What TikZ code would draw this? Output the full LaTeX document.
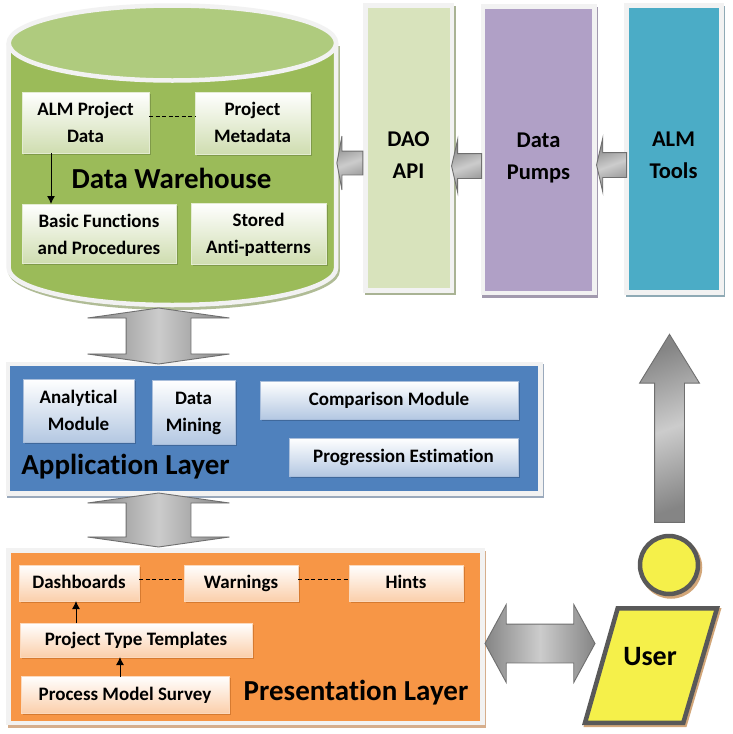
\documentclass[tikz,border=0pt]{standalone}
\usepackage{fontspec}
\setmainfont[Ligatures=NoCommon]{Carlito}
\usetikzlibrary{shadows,shapes.arrows,shapes.geometric,arrows.meta}
\definecolor{edgegray}{HTML}{F2F2F2}
\definecolor{arrowdark}{HTML}{858585}
\definecolor{arrowlight}{HTML}{CCCCCC}
\definecolor{arrowline}{HTML}{6F6F6F}
\definecolor{LB}{HTML}{CFDDB0}
\definecolor{GE}{HTML}{E4ECD2}
\definecolor{GS}{HTML}{7F9A49}
\definecolor{BB}{HTML}{B4C8E2}
\definecolor{BE}{HTML}{A9BEDB}
\definecolor{BS}{HTML}{3F689B}
\definecolor{OB}{HTML}{FBCFAB}
\definecolor{OE}{HTML}{FBD9BD}
\definecolor{OS}{HTML}{D67A30}
\definecolor{cylshadow}{HTML}{B0BC96}
\definecolor{cylbody}{HTML}{9BBB59}
\definecolor{cyltop}{HTML}{AFCB7E}
\definecolor{daofill}{HTML}{D8E3BC}
\definecolor{daoshadow}{HTML}{A9B394}
\definecolor{pumpfill}{HTML}{B0A0C6}
\definecolor{pumpshadow}{HTML}{A29AAE}
\definecolor{toolfill}{HTML}{4BACC6}
\definecolor{toolshadow}{HTML}{8FAAB5}
\definecolor{appfill}{HTML}{4F81BD}
\definecolor{appshadow}{HTML}{9AA9BC}
\definecolor{presfill}{HTML}{F79646}
\definecolor{presshadow}{HTML}{D6AE8C}
\definecolor{userfill}{HTML}{F5F04A}
\definecolor{userline}{HTML}{595959}
\definecolor{usershadow}{HTML}{D2A679}
\tikzset{
  x=1pt,y=-1pt,
  every node/.style={align=center,inner sep=0pt,outer sep=0pt,text=black},
  lbl/.style={font=\fontsize{22.5}{32}\selectfont\bfseries},
  title/.style={font=\fontsize{29}{32}\selectfont\bfseries,text height=22pt,text depth=5pt},
  boxtext/.style={font=\fontsize{19}{27}\selectfont\bfseries},
  oneline/.style={text height=14pt,text depth=3pt},
  panel/.style 2 args={rectangle,draw=edgegray,line width=4.5pt,fill=#1,
    general shadow={fill=#2,draw=#2,line width=4.5pt,shadow xshift=1.5pt,shadow yshift=-2.5pt}},
  greenbox/.style={rectangle,boxtext,shade,top color=white,bottom color=LB,draw=GE,line width=.8pt,
    general shadow={fill=GS,shadow xshift=1.5pt,shadow yshift=-2pt}},
  bluebox/.style={rectangle,boxtext,shade,top color=white,bottom color=BB,draw=BE,line width=.8pt,
    general shadow={fill=BS,shadow xshift=1.5pt,shadow yshift=-2pt}},
  orangebox/.style={rectangle,boxtext,oneline,shade,top color=white,bottom color=OB,draw=OE,line width=.8pt,
    general shadow={fill=OS,shadow xshift=1.5pt,shadow yshift=-2pt}},
  blockarrow/.style={draw=arrowline,line width=.9pt,shade,left color=arrowdark,right color=arrowdark,middle color=arrowlight},
  sarrow/.style={blockarrow,single arrow,shading angle=20},
  darrow/.style={blockarrow,double arrow},
  dashline/.style={dash pattern=on 4pt off 2.5pt,line width=.9pt,black},
  thinarrow/.style={-{Latex[length=8pt,width=8pt]},line width=1pt,black},
}
\begin{document}
\begin{tikzpicture}
\useasboundingbox (0,0) rectangle (732,734);
\fill[white] (0,0) rectangle (732,734);
% data warehouse cylinder
\path[fill=cylshadow,xshift=1.5pt,yshift=-3pt] (6.5,43) -- (6.5,268) arc[start angle=180,end angle=360,x radius=165.9pt,y radius=39pt] -- (338.3,43) -- cycle;
\draw[draw=edgegray,line width=4.5pt,fill=cylbody] (8.7,43) -- (8.7,268) arc[start angle=180,end angle=360,x radius=163.7pt,y radius=37pt] -- (336.1,43);
\draw[draw=edgegray,line width=4.5pt,fill=cyltop] (172.4,43) circle[x radius=163.7pt,y radius=37.5pt];
% columns
\node[panel={daofill}{daoshadow},minimum width=86.5pt,minimum height=285pt] (dao) at (408.75,148) {};
\node[panel={pumpfill}{pumpshadow},minimum width=111.5pt,minimum height=286.5pt] (pumps) at (538.75,149.75) {};
\node[panel={toolfill}{toolshadow},minimum width=95pt,minimum height=287pt] (tools) at (674,149) {};
\node[lbl] (daotxt) at (408.5,155.5) {DAO\\API};
\node[lbl] (pumpstxt) at (538.5,158) {Data\\Pumps};
\node[lbl] (toolstxt) at (673.5,155.5) {ALM\\Tools};
% layers
\node[panel={appfill}{appshadow},minimum width=532.5pt,minimum height=129.5pt] (app) at (274.25,428.75) {};
\node[panel={presfill}{presshadow},minimum width=474.25pt,minimum height=172.5pt] (pres) at (245.4,636.75) {};
% warehouse boxes
\node[greenbox,minimum width=127pt,minimum height=61pt] (alm) at (85.5,122.5) {ALM Project\\Data};
\node[greenbox,minimum width=115pt,minimum height=62pt] (meta) at (252.5,123) {\rule[-6pt]{0pt}{6pt}Project\\Metadata\rule[-2pt]{0pt}{2pt}};
\node[greenbox,minimum width=154pt,minimum height=59pt] (basic) at (99,233.5) {\rule{0pt}{15pt}Basic Functions\\and Procedures};
\node[greenbox,minimum width=135pt,minimum height=61pt] (stored) at (258.5,233.5) {\rule{0pt}{17pt}Stored\\\rule[-5pt]{0pt}{5pt}Anti-patterns};
\node[title] (dwt) at (171.5,179.5) {Data Warehouse};
\coordinate (almdash) at (alm.east |- 0,116);
\draw[dashline] (almdash) -- (almdash -| meta.west);
\coordinate (almdown) at (51,153);
\draw[thinarrow] (almdown) -- (almdown |- basic.north);
% application boxes
\node[bluebox,minimum width=111pt,minimum height=63pt] (ana) at (78.5,410.5) {Analytical\\Module};
\node[bluebox,minimum width=83pt,minimum height=64pt] (mining) at (193.5,412) {\rule{0pt}{15pt}Data\\Mining};
\node[bluebox,oneline,minimum width=258pt,minimum height=38pt] (comp) at (389,400) {Comparison Module};
\node[bluebox,oneline,minimum width=229pt,minimum height=38pt] (prog) at (403.5,457) {Progression Estimation};
\node[title] (appt) at (125.5,466) {Application Layer};
% presentation boxes
\node[orangebox,minimum width=120pt,minimum height=36pt] (dash) at (79,583) {Dashboards};
\node[orangebox,minimum width=114pt,minimum height=36pt] (warn) at (241,583) {Warnings};
\node[orangebox,minimum width=114pt,minimum height=36pt] (hints) at (406,583) {Hints};
\node[orangebox,minimum width=232pt,minimum height=34pt] (ptt) at (136,640) {Project Type Templates};
\node[orangebox,minimum width=208pt,minimum height=37pt] (pms) at (125,694.5) {Process Model Survey};
\node[title] (prest) at (356,692) {Presentation Layer};
\coordinate (d1) at (dash.east |- 0,579);
\draw[dashline] (d1) -- (d1 -| warn.west);
\coordinate (d2) at (warn.east |- 0,579.5);
\draw[dashline] (d2) -- (d2 -| hints.west);
\coordinate (u1) at (76,623);
\draw[thinarrow] (u1) -- (u1 |- dash.south);
\coordinate (u2) at (120,677);
\draw[thinarrow] (u2) -- (u2 |- ptt.south);
% block arrows
\node[sarrow,rotate=180,inner ysep=11.5pt,minimum height=26pt,single arrow head extend=15pt,single arrow tip angle=158.6] (a1) at (351,163) {};
\node[sarrow,rotate=180,inner ysep=12pt,minimum height=30pt,single arrow head extend=14pt,single arrow tip angle=154] (a2) at (468,166) {};
\node[sarrow,rotate=180,inner ysep=12pt,minimum height=30pt,single arrow head extend=14.5pt,single arrow tip angle=154] (a3) at (613,165) {};
\node[sarrow,rotate=90,inner ysep=14.5pt,minimum height=188pt,single arrow head extend=15pt,single arrow tip angle=63.1] (a4) at (669.5,440.5) {};
\node[darrow,rotate=90,inner ysep=32pt,minimum height=56pt,double arrow head extend=38.5pt,double arrow tip angle=163.9] (a5) at (158.5,336) {};
\node[darrow,rotate=90,inner ysep=32pt,minimum height=54pt,double arrow head extend=38.5pt,double arrow tip angle=163.9] (a6) at (158.5,520) {};
\node[darrow,inner ysep=19pt,minimum height=110pt,double arrow head extend=19.5pt,double arrow tip angle=122.8] (a7) at (540,643.5) {};
% user
\node[circle,draw=userline,fill=userfill,line width=4.5pt,minimum size=58pt,general shadow={fill=usershadow,draw=usershadow,line width=4.5pt,shadow xshift=2pt,shadow yshift=-2.5pt}] (head) at (669,565) {};
\path[fill=usershadow,draw=usershadow,line width=4.5pt,xshift=1.5pt,yshift=-2pt] (617.7,608.25) -- (717,608.25) -- (683.3,722.75) -- (585,722.75) -- cycle;
\draw[draw=userline,fill=userfill,line width=4.5pt] (617.7,608.25) -- (717,608.25) -- (683.3,722.75) -- (585,722.75) -- cycle;
\node[font=\fontsize{28}{30}\selectfont\bfseries] (user) at (650,657) {User};
\end{tikzpicture}
\end{document}
